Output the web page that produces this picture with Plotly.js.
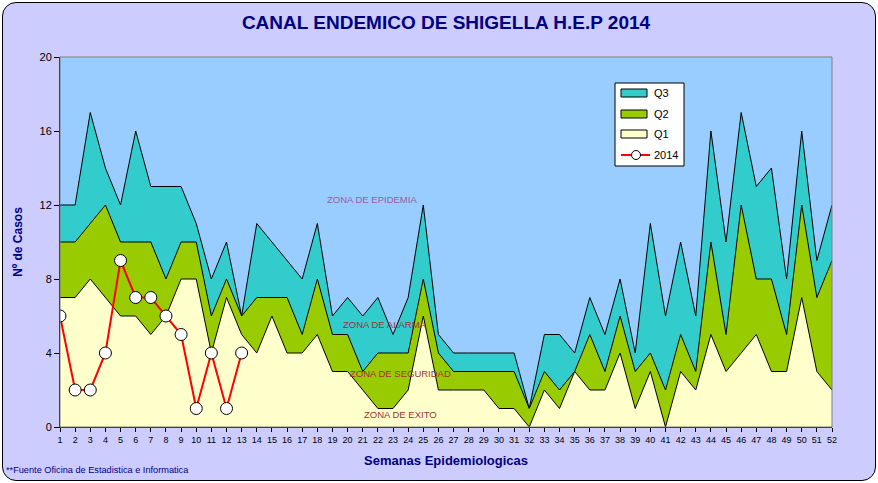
<!DOCTYPE html>
<html>
<head>
<meta charset="utf-8">
<script src="https://cdn.plot.ly/plotly-3.0.1.min.js"></script>
<style>
html,body{margin:0;padding:0;background:#ffffff;}
#frame{position:absolute;left:2px;top:2px;width:872px;height:477px;border:1.5px solid #000;border-radius:14px;background:#CCCCFF;}
#chart{position:absolute;left:0;top:0;width:878px;height:483px;}
</style>
</head>
<body>
<div id="frame"></div>
<div id="chart"></div>
<script>
var weeks = [];
for (var i = 1; i <= 52; i++) weeks.push(i);
var weekLabels = weeks.map(String);

var q3 = [12,12,17,14,12,16,13,13,13,11,8,10,6,11,10,9,8,11,6,7,6,7,5,7,12,5,4,4,4,4,4,1,5,5,4,7,5,8,4,11,6,10,6,16,10,17,13,14,8,16,9,12];
var q2 = [10,10,11,12,10,10,10,8,10,10,6,8,6,7,7,7,5,8,5,5,3,4,4,4,8,4,3,3,3,3,3,1,3,2,3,5,3,6,3,4,2,5,3,10,5,12,8,8,5,12,7,9];
var q1 = [7,7,8,7,6,6,5,6,8,8,4,7,5,4,6,4,4,5,3,3,2,1,1,2,6,2,2,2,2,1,1,0,2,1,3,2,2,4,1,3,0,3,2,5,3,4,5,3,3,7,3,2];
var weeks2014 = [1,2,3,4,5,6,7,8,9,10,11,12,13];
var cases2014 = [6,2,2,4,9,7,7,6,5,1,4,1,4];

var yTicks = [0,4,8,12,16,20];

var seriesNames = ['Q3','Q2','Q1','2014'];
var seriesColors = ['#33CCCC','#99CC00','#FFFFCC','#FF0000'];

var zoneLabels = ['ZONA DE EPIDEMIA','ZONA DE ALARMA','ZONA DE SEGURIDAD','ZONA DE EXITO'];
var zoneX = [21.6,22.5,23.5,23.5];
var zoneY = [12.3,5.55,2.9,0.7];
var zoneColors = ['#9C5C9C','#993333','#993333','#993333'];

var traces = [
  {x: weeks, y: q3, name: seriesNames[0], type: 'scatter', mode: 'lines', fill: 'tozeroy',
   fillcolor: seriesColors[0], line: {color: '#000000', width: 1}},
  {x: weeks, y: q2, name: seriesNames[1], type: 'scatter', mode: 'lines', fill: 'tozeroy',
   fillcolor: seriesColors[1], line: {color: '#000000', width: 1}},
  {x: weeks, y: q1, name: seriesNames[2], type: 'scatter', mode: 'lines', fill: 'tozeroy',
   fillcolor: seriesColors[2], line: {color: '#000000', width: 1}},
  {x: weeks2014, y: cases2014, name: seriesNames[3], type: 'scatter', mode: 'lines+markers',
   line: {color: seriesColors[3], width: 2},
   marker: {size: 12, color: '#FFFFFF', line: {color: '#000000', width: 1}}}
];

var FONT = 'Liberation Sans, Arial, sans-serif';
var annotations = zoneLabels.map(function(t, i){
  return {x: zoneX[i], y: zoneY[i], xref: 'x', yref: 'y', text: t, showarrow: false,
    font: {family: FONT, size: 9.5, color: zoneColors[i]}};
});
annotations.push({x: -0.0725, y: -0.116, xref: 'paper', yref: 'paper', xanchor: 'left', yanchor: 'middle',
  text: '**Fuente Oficina de Estadistica e Informatica', showarrow: false,
  font: {family: 'Liberation Sans Narrow, Liberation Sans, Arial, sans-serif', size: 9.2, color: '#000080'}});

// custom legend (pixel positions converted to paper coords of the plot area)
function px(x){ return (x - 60) / 772; }
function py(y){ return (427 - y) / 370; }
var shapes = [
  {type: 'rect', xref: 'paper', yref: 'paper', x0: 0, x1: 1, y0: 0, y1: 1,
   line: {color: '#808080', width: 1}, layer: 'above'},
  {type: 'rect', xref: 'paper', yref: 'paper', x0: px(615), x1: px(684), y0: py(166), y1: py(83),
   fillcolor: '#FFFFFF', line: {color: '#000000', width: 1}, layer: 'above'}
];
var itemY = [93, 114, 134, 155];
for (var k = 0; k < 3; k++) {
  shapes.push({type: 'rect', xref: 'paper', yref: 'paper', x0: px(621), x1: px(647),
    y0: py(itemY[k] + 4), y1: py(itemY[k] - 4), fillcolor: seriesColors[k],
    line: {color: '#000000', width: 1}, layer: 'above'});
}
shapes.push({type: 'line', xref: 'paper', yref: 'paper', x0: px(621), x1: px(650),
  y0: py(itemY[3]), y1: py(itemY[3]), line: {color: seriesColors[3], width: 2}, layer: 'above'});
shapes.push({type: 'circle', xref: 'paper', yref: 'paper', x0: px(631.5), x1: px(640.5),
  y0: py(itemY[3] + 4.5), y1: py(itemY[3] - 4.5), fillcolor: '#FFFFFF',
  line: {color: '#000000', width: 1}, layer: 'above'});
for (var k = 0; k < 4; k++) {
  annotations.push({x: px(652), y: py(itemY[k]), xref: 'paper', yref: 'paper', xanchor: 'left',
    yanchor: 'middle', text: seriesNames[k], showarrow: false,
    font: {family: FONT, size: 11, color: '#000000'}});
}

var layout = {
  width: 878, height: 483,
  margin: {l: 60, r: 46, t: 57, b: 56},
  paper_bgcolor: 'rgba(0,0,0,0)',
  plot_bgcolor: '#99CCFF',
  font: {family: FONT, color: '#000000'},
  title: {text: 'CANAL ENDEMICO DE SHIGELLA H.E.P 2014', xref: 'paper', x: 0.5, xanchor: 'center', y: 0.953, yanchor: 'middle',
    font: {family: FONT, size: 19, color: '#000080', weight: 'bold'}},
  xaxis: {
    range: [1, 52], tickmode: 'array', tickvals: weeks, ticktext: weekLabels,
    ticks: 'outside', ticklen: 4, tickcolor: '#000', showgrid: false, zeroline: false,
    showline: true, linecolor: '#000', linewidth: 1,
    tickfont: {family: 'Liberation Sans Narrow, Liberation Sans, Arial, sans-serif', size: 9},
    title: {text: 'Semanas Epidemiologicas', standoff: 12,
      font: {family: FONT, size: 13, color: '#000080', weight: 'bold'}}
  },
  yaxis: {
    range: [0, 20], tickmode: 'array', tickvals: yTicks,
    ticks: 'outside', ticklen: 5, tickcolor: '#000', showgrid: false, zeroline: false,
    showline: true, linecolor: '#000', linewidth: 1,
    tickfont: {family: FONT, size: 11},
    title: {text: 'Nº de Casos', standoff: 14,
      font: {family: FONT, size: 12, color: '#000080', weight: 'bold'}}
  },
  shapes: shapes,
  annotations: annotations,
  showlegend: false
};

Plotly.newPlot('chart', traces, layout, {displayModeBar: false, staticPlot: true});
</script>
</body>
</html>
